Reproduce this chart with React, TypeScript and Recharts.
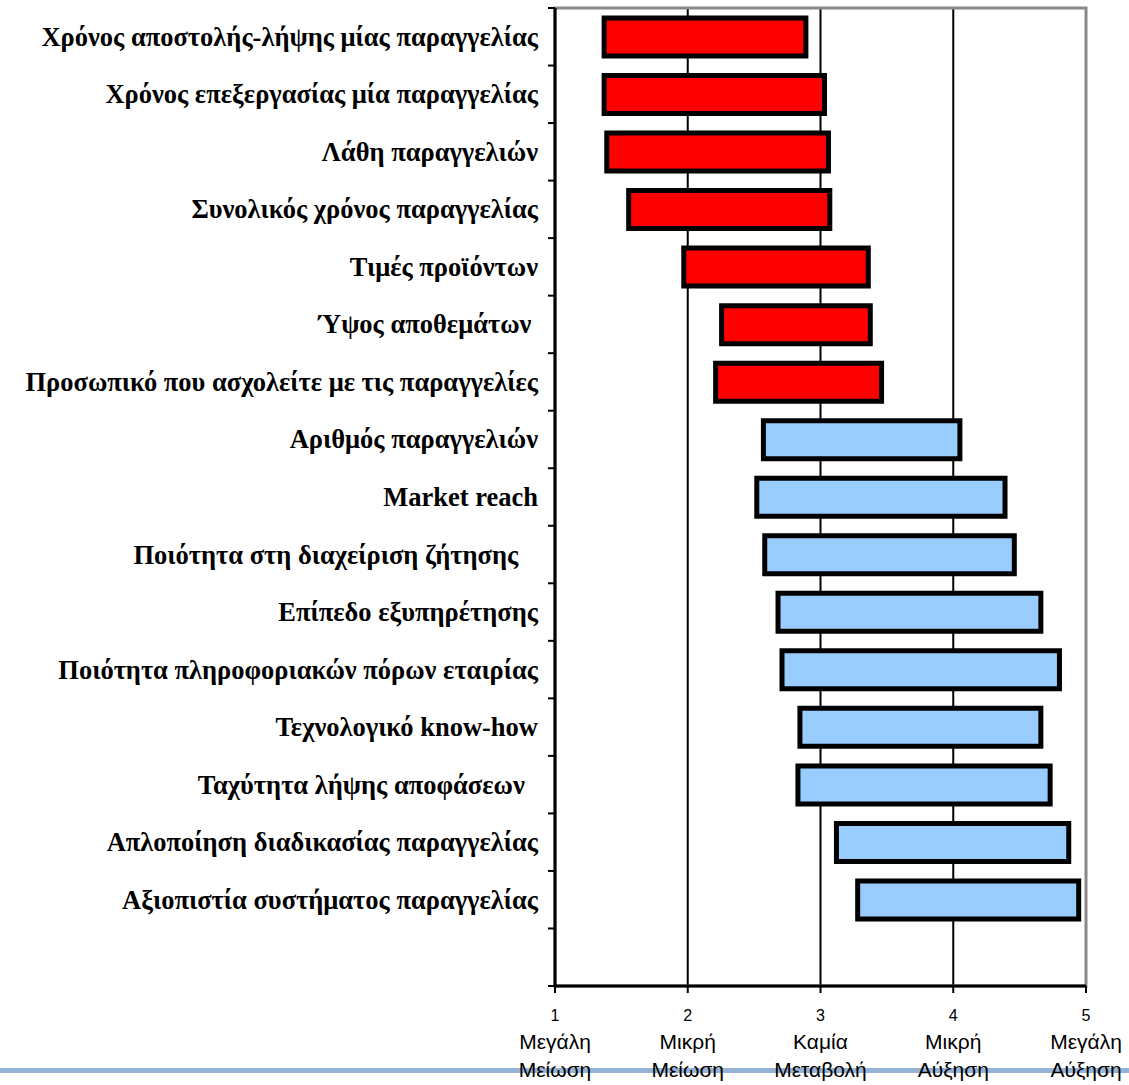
import { BarChart, Bar, XAxis, YAxis, CartesianGrid, ReferenceArea, Cell } from "recharts";

// factors, top to bottom
const categories = [
  "Χρόνος αποστολής-λήψης μίας παραγγελίας",
  "Χρόνος επεξεργασίας μία παραγγελίας",
  "Λάθη παραγγελιών",
  "Συνολικός χρόνος παραγγελίας",
  "Τιμές προϊόντων",
  "Ύψος αποθεμάτων\u00A0",
  "Προσωπικό που ασχολείτε με τις παραγγελίες",
  "Αριθμός παραγγελιών",
  "Market reach",
  "Ποιότητα στη διαχείριση ζήτησης\u00A0\u00A0\u00A0",
  "Επίπεδο εξυπηρέτησης",
  "Ποιότητα πληροφοριακών πόρων εταιρίας",
  "Τεχνολογικό know-how",
  "Ταχύτητα λήψης αποφάσεων\u00A0\u00A0",
  "Απλοποίηση διαδικασίας παραγγελίας",
  "Αξιοπιστία συστήματος παραγγελίας",
];

const lowValues = [1.37, 1.37, 1.39, 1.555, 1.97, 2.255, 2.21, 2.57, 2.52, 2.58, 2.68, 2.71, 2.845, 2.83, 3.12, 3.28];
const highValues = [2.89, 3.03, 3.06, 3.07, 3.36, 3.375, 3.46, 4.05, 4.39, 4.46, 4.66, 4.8, 4.66, 4.73, 4.87, 4.945];
const groups = ["down", "down", "down", "down", "down", "down", "down", "up", "up", "up", "up", "up", "up", "up", "up", "up"];

const scaleTicks = [1, 2, 3, 4, 5];
const scaleTop = ["Μεγάλη", "Μικρή", "Καμία", "Μικρή", "Μεγάλη"];
const scaleBottom = ["Μείωση", "Μείωση", "Μεταβολή", "Αύξηση", "Αύξηση"];

const groupColor: Record<string, string> = { down: "#FF0000", up: "#99CCFF" };

const LABEL_GAP = 17;

// one empty row at the bottom, like the original
const data = [
  ...categories.map((name, i) => ({ name, range: [lowValues[i], highValues[i]], group: groups[i] })),
  { name: "", range: null, group: "" },
];

// label + tick marks on the row boundaries (not the row centres)
const CategoryTick = (props: any) => {
  const { x, y, payload, index, height, visibleTicksCount } = props;
  const band = height / visibleTicksCount;
  const axisX = x + LABEL_GAP;
  return (
    <g>
      <line x1={axisX - 7} x2={axisX} y1={y - band / 2} y2={y - band / 2} stroke="#000" strokeWidth={2} />
      {index === visibleTicksCount - 1 && (
        <line x1={axisX - 7} x2={axisX} y1={y + band / 2} y2={y + band / 2} stroke="#000" strokeWidth={2} />
      )}
      <text
        x={x}
        y={y}
        textAnchor="end"
        dominantBaseline="central"
        fontFamily="'Liberation Serif', 'Times New Roman', serif"
        fontWeight="bold"
        fontSize={26.5}
        fill="#000"
        style={{ whiteSpace: "pre" }}
      >
        {payload.value}
      </text>
    </g>
  );
};

const ScaleTick = (props: any) => {
  const { x, y, payload } = props;
  const i = scaleTicks.indexOf(payload.value);
  return (
    <g fontFamily="'Liberation Sans', Arial, sans-serif" fill="#000" textAnchor="middle">
      <text x={x} y={y + 26} fontSize={16}>
        {payload.value}
      </text>
      <text x={x} y={y + 54} fontSize={21}>
        {scaleTop[i]}
      </text>
      <text x={x} y={y + 82} fontSize={21}>
        {scaleBottom[i]}
      </text>
    </g>
  );
};

export default function App() {
  return (
    <div style={{ position: "absolute", left: 0, top: 0, width: 1129, height: 1085, background: "#fff" }}>
      <div style={{ position: "absolute", left: 0, top: 1068, width: 1129, height: 5, background: "#95B3D7" }} />
      <div style={{ position: "absolute", left: 0, top: 0 }}>
        <BarChart
          width={1129}
          height={1085}
          data={data}
          layout="vertical"
          margin={{ top: 8, right: 43, left: 0, bottom: 9 }}
        >
          <CartesianGrid horizontal={false} stroke="#000" strokeWidth={2} />
          <ReferenceArea x1={1} x2={5} fill="none" stroke="#888" strokeWidth={3} ifOverflow="visible" />
          <XAxis
            type="number"
            dataKey="range"
            domain={[1, 5]}
            ticks={scaleTicks}
            allowDataOverflow
            height={90}
            axisLine={{ stroke: "#000", strokeWidth: 3 }}
            tickLine={{ stroke: "#000", strokeWidth: 2 }}
            tickSize={7}
            tick={<ScaleTick />}
          />
          <YAxis
            type="category"
            dataKey="name"
            width={555}
            interval={0}
            axisLine={{ stroke: "#000", strokeWidth: 3 }}
            tickLine={false}
            tickSize={0}
            tickMargin={LABEL_GAP}
            tick={<CategoryTick />}
          />
          <Bar dataKey="range" barSize={38} stroke="#000" strokeWidth={5} isAnimationActive={false}>
            {data.map((d, i) => (
              <Cell key={i} fill={groupColor[d.group] || "none"} />
            ))}
          </Bar>
        </BarChart>
      </div>
    </div>
  );
}
